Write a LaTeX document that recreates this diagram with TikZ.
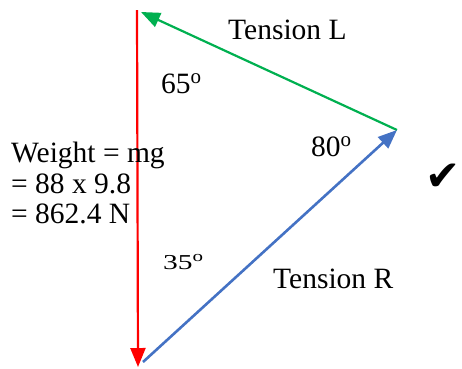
\documentclass[tikz,border=0pt]{standalone}
\usepackage{fontspec}
\setmainfont{Liberation Serif}
\newfontfamily\symfont{DejaVu Sans}
\usetikzlibrary{arrows.meta}

\definecolor{lgreen}{RGB}{0,176,80}
\definecolor{rblue}{RGB}{68,114,196}
\newcommand{\dg}{\raisebox{10pt}{\fontsize{21}{21}\selectfont o}}

\begin{document}
\begin{tikzpicture}[x=1pt,y=-1pt,>={Triangle[length=19pt,width=15pt]},
    lbl/.style={anchor=base west,inner sep=0pt,font=\fontsize{29.5}{33}\selectfont},
    force/.style={->,line width=2.2pt}]
  \useasboundingbox (0,0) rectangle (462,368);
  % corners of the triangle
  \coordinate (top) at (137,10);
  \coordinate (bot) at (138,367);
  \coordinate (right) at (397,130);
  \coordinate (ltip) at (141,12);
  \coordinate (rstart) at (143,362);
  \draw[force,red] (top) -- (bot);
  \draw[force,lgreen] (right) -- (ltip);
  \draw[force,rblue,line width=2.6pt] (rstart) -- (right);
  \node[lbl] (tl) at (228,39) {Tension L};
  \node[lbl] (tr) at (273,288) {Tension R};
  \node[lbl] (a65) at (161,93) {65\dg};
  \node[lbl] (a80) at (311,156) {80\dg};
  \node[lbl] (a35) at (163,269) {\scalebox{1}[0.72]{35\dg}};
  \node[lbl] (w1) at (11,162) {Weight = mg};
  \node[lbl] (w2) at (11,193) {= 88 x 9.8};
  \node[lbl] (w3) at (11,223) {= 862.4 N};
  \node[inner sep=0pt,font=\symfont\fontsize{42}{46}\selectfont] (tick) at (443,177) {✔};
\end{tikzpicture}
\end{document}
